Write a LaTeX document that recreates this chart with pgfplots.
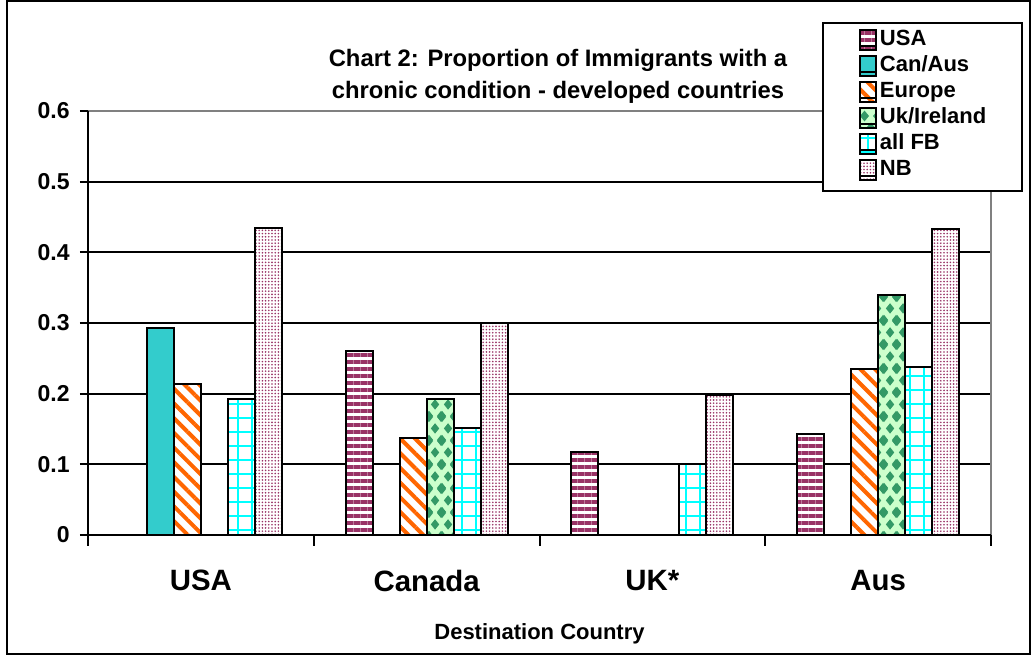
\documentclass[border=0pt]{standalone}
\usepackage{fontspec}
\setmainfont{Liberation Sans}
\usepackage{pgfplots}
\pgfplotsset{compat=1.18}
\usetikzlibrary{patterns.meta}

\definecolor{plum}{HTML}{993366}
\definecolor{tealc}{HTML}{33CCCC}
\definecolor{orangec}{HTML}{FF6600}
\definecolor{dgreen}{HTML}{339966}
\definecolor{lgreen}{HTML}{CCFFCC}
\definecolor{cyanc}{HTML}{00FFFF}
\definecolor{grayc}{HTML}{808080}

\tikzdeclarepattern{
  name=diamonds, type=uncolored,
  bounding box={(0pt,0pt) and (6.5pt,12pt)},
  tile size={(6.5pt,12pt)},
  code={
    \fill (3.25pt,3.3pt) -- (5.5pt,6pt) -- (3.25pt,8.7pt) -- (1pt,6pt) -- cycle;
    \fill (0pt,-2.7pt) -- (2.25pt,0pt) -- (0pt,2.7pt) -- (-2.25pt,0pt) -- cycle;
    \fill (6.5pt,-2.7pt) -- (8.75pt,0pt) -- (6.5pt,2.7pt) -- (4.25pt,0pt) -- cycle;
    \fill (0pt,9.3pt) -- (2.25pt,12pt) -- (0pt,14.7pt) -- (-2.25pt,12pt) -- cycle;
    \fill (6.5pt,9.3pt) -- (8.75pt,12pt) -- (6.5pt,14.7pt) -- (4.25pt,12pt) -- cycle;
  }
}

\begin{document}
\begin{tikzpicture}
\useasboundingbox (0,0) rectangle (516pt,328pt);
\draw[line width=1pt] (3.5pt,1pt) rectangle (515pt,327.5pt);
\begin{axis}[
  at={(44pt,60.5pt)}, anchor=south west,
  scale only axis, width=451.5pt, height=212pt,
  xmin=-0.5, xmax=3.5, ymin=0, ymax=0.6,
  ybar=0pt, bar width=13.5pt,
  xtick={0,1,2,3}, xticklabels={USA,Canada,UK*,Aus},
  minor xtick={-0.5,0.5,1.5,2.5,3.5},
  ytick={0,0.1,0.2,0.3,0.4,0.5,0.6},
  xtick pos=bottom, ytick pos=left,
  tick align=outside,
  major tick length=4pt, minor tick length=5.5pt,
  major x tick style={draw=none},
  minor x tick style={black, line width=1pt},
  major y tick style={black, line width=1pt},
  ymajorgrids, major grid style={black, line width=0.9pt},
  axis line style={draw=none},
  /pgf/number format/assume math mode=true,
  yticklabel style={font=\fontsize{11.5}{13}\selectfont\bfseries, anchor=east, inner sep=0pt, xshift=-5pt},
  xticklabel style={font=\fontsize{14.7}{17}\selectfont\bfseries, anchor=north, inner sep=0pt, yshift=-13.5pt},
  xlabel={Destination Country},
  xlabel style={font=\fontsize{11}{13}\selectfont\bfseries, at={(axis description cs:0.5,-0.2472)}, anchor=base},
  legend style={at={(axis description cs:0.8128,1.2099)}, anchor=north west, draw=black, line width=1pt, fill=white,
    inner xsep=18pt, inner ysep=3pt, font=\fontsize{11}{13}\selectfont\bfseries, row sep=0pt, column sep=1.5pt,
    nodes={inner sep=0pt, text height=8.5pt, text depth=4.5pt}},
  legend cell align=left,
  mylegend/.style={legend image code/.code={
    \path (0pt,-4pt) rectangle (8pt,4pt);
    \draw[##1, overlay] (0pt,-2pt) rectangle (8pt,6pt);}},
  after end axis/.code={
    \draw[grayc, line width=1pt] (rel axis cs:0,1) -- (rel axis cs:1,1) -- (rel axis cs:1,0);
    \draw[black, line width=1pt] (rel axis cs:0,1) -- (rel axis cs:0,0) -- (rel axis cs:1,0);
  },
]
\addplot[draw=black, line width=1pt, preaction={fill=white}, pattern={Lines[angle=0,distance=3.5pt,line width=1.7pt]}, pattern color=plum, mylegend]
  coordinates {(1,0.260) (2,0.118) (3,0.143)};
\addplot[draw=black, line width=1pt, fill=tealc, mylegend]
  coordinates {(0,0.293)};
\addplot[draw=black, line width=1pt, preaction={fill=white}, pattern={Lines[angle=-45,distance=5.2pt,line width=2pt]}, pattern color=orangec, mylegend]
  coordinates {(0,0.214) (1,0.137) (3,0.235)};
\addplot[draw=black, line width=1pt, preaction={fill=lgreen}, pattern=diamonds, pattern color=dgreen, mylegend]
  coordinates {(1,0.193) (3,0.340)};
\addplot[draw=black, line width=1pt, preaction={fill=white}, pattern={Hatch[angle=0,distance=7pt,line width=0.8pt]}, pattern color=cyanc, mylegend]
  coordinates {(0,0.192) (1,0.152) (2,0.101) (3,0.238)};
\addplot[draw=black, line width=1pt, preaction={fill=white}, pattern={Dots[distance=1.6pt,radius=0.45pt]}, pattern color=plum, mylegend]
  coordinates {(0,0.435) (1,0.300) (2,0.198) (3,0.433)};
\legend{USA,Can/Aus,Europe,Uk/Ireland,all FB,NB}
\end{axis}
\node[align=center, font=\fontsize{11.9}{16}\selectfont\bfseries] at (279pt,290pt)
  {Chart 2: Proportion of Immigrants with a\\chronic condition - developed countries};
\end{tikzpicture}
\end{document}
